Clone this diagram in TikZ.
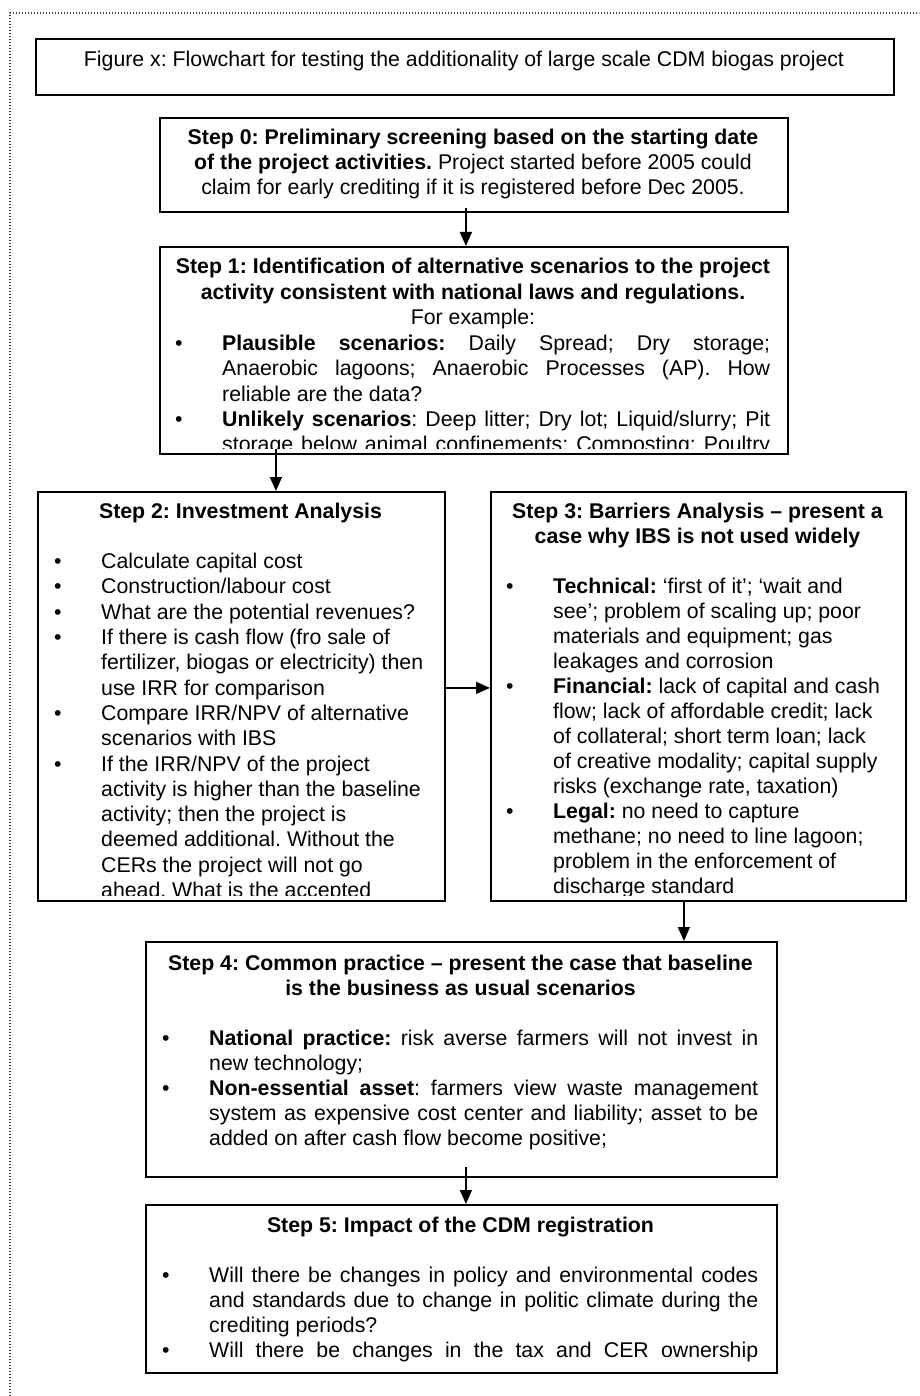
\documentclass[tikz,border=0pt]{standalone}
\usepackage{fontspec}
\setmainfont{Liberation Sans}
\usetikzlibrary{arrows.meta}

\frenchspacing
\newcommand\bodyfont{\fontsize{21.3pt}{25pt}\selectfont}
\newcommand\pitch[1]{\fontsize{21.3pt}{#1}\selectfont}
\newcommand\bul{\leavevmode\llap{\makebox[47pt][l]{\textbullet}}}
\newcommand\justpar{\tolerance=10000\hbadness=10000\parindent=0pt}

\begin{document}
\begin{tikzpicture}[x=1pt,y=-1pt,
  box/.style={draw, line width=1.8pt, anchor=north west, inner sep=0pt},
  arr/.style={line width=1.4pt, -{Triangle[length=14pt,width=12pt]}},
  txt/.style={anchor=base west, inner sep=0pt, font=\bodyfont},
  head/.style={anchor=base, inner sep=0pt, font=\bodyfont},
  frame/.style={line width=1.3pt, black!75, dash pattern=on 1.3pt off 1.7pt}]

\useasboundingbox (0,0) rectangle (919,1396);

% dotted page frame (top and left edges)
\draw[frame] (10,1396) -- (10,13) -- (919,13);

% boxes
\node[box, minimum width=858pt, minimum height=56pt]  (ttl) at (35,38) {};
\node[box, minimum width=628pt, minimum height=94pt]  (s0) at (159,117) {};
\node[box, minimum width=628pt, minimum height=207pt] (s1) at (159,246) {};
\node[box, minimum width=407pt, minimum height=409pt] (s2) at (37,491) {};
\node[box, minimum width=415pt, minimum height=409pt] (s3) at (490,491) {};
\node[box, minimum width=631pt, minimum height=235pt] (s4) at (145,941) {};
\node[box, minimum width=631pt, minimum height=168pt] (s5) at (145,1204) {};

% title
\node[head] (ttltxt) at (464,66.5)
  {Figure x: Flowchart for testing the additionality of large scale CDM biogas project};

% step 0
\node[head] (t0) at (473,145) {\parbox[t]{620pt}{\bodyfont\centering
  \textbf{Step 0: Preliminary screening based on the starting date}\\
  \textbf{of the project activities.} Project started before 2005 could\\
  claim for early crediting if it is registered before Dec 2005.}};

% step 1 (text runs past the box and is cut at its inner margin)
\begin{scope}
\clip ([yshift=6pt]s1.south east) rectangle (s1.north west);
\node[head] (h1) at (473,274) {\parbox[t]{620pt}{\pitch{25.4pt}\centering
  \textbf{Step 1: Identification of alternative scenarios to the project}\\
  \textbf{activity consistent with national laws and regulations.}\\
  For example:}};
\node[txt] (b1) at (222,350.2) {\parbox[t]{548pt}{\pitch{25.4pt}\justpar
  \bul\textbf{Plausible scenarios:} Daily Spread; Dry storage;\linebreak
  Anaerobic lagoons; Anaerobic Processes (AP). How\linebreak
  reliable are the data?\par
  \bul\textbf{Unlikely scenarios}: Deep litter; Dry lot; Liquid/slurry; Pit\linebreak
  storage below animal confinements; Composting; Poultry\parfillskip=0pt\par}};
\end{scope}

% step 2
\node[head] (h2) at (240.5,518) {\textbf{Step 2: Investment Analysis}};
\begin{scope}
\clip ([yshift=6pt]s2.south east) rectangle (s2.north west);
\node[txt] (b2) at (101,568.6) {\parbox[t]{340pt}{\pitch{25.3pt}\raggedright
  \bul Calculate capital cost\par
  \bul Construction/labour cost\par
  \bul What are the potential revenues?\par
  \bul If there is cash flow (fro sale of\\
  fertilizer, biogas or electricity) then\\
  use IRR for comparison\par
  \bul Compare IRR/NPV of alternative\\
  scenarios with IBS\par
  \bul If the IRR/NPV of the project\\
  activity is higher than the baseline\\
  activity; then the project is\\
  deemed additional. Without the\\
  CERs the project will not go\\
  ahead. What is the accepted}};
\end{scope}

% step 3
\node[head] (h3) at (697.5,518) {\parbox[t]{400pt}{\bodyfont\centering\bfseries
  Step 3: Barriers Analysis – present a\\
  case why IBS is not used widely}};
\begin{scope}
\clip ([yshift=6pt]s3.south east) rectangle (s3.north west);
\node[txt] (b3) at (553,593) {\parbox[t]{345pt}{\bodyfont\raggedright
  \bul\textbf{Technical:} ‘first of it’; ‘wait and\\
  see’; problem of scaling up; poor\\
  materials and equipment; gas\\
  leakages and corrosion\par
  \bul\textbf{Financial:} lack of capital and cash\\
  flow; lack of affordable credit; lack\\
  of collateral; short term loan; lack\\
  of creative modality; capital supply\\
  risks (exchange rate, taxation)\par
  \bul\textbf{Legal:} no need to capture\\
  methane; no need to line lagoon;\\
  problem in the enforcement of\\
  discharge standard}};
\end{scope}

% step 4
\node[head] (h4) at (460.5,970) {\parbox[t]{620pt}{\bodyfont\centering\bfseries
  Step 4: Common practice – present the case that baseline\\
  is the business as usual scenarios}};
\node[txt] (b4) at (209,1045) {\parbox[t]{549pt}{\bodyfont\justpar
  \bul\textbf{National practice:} risk averse farmers will not invest in\linebreak
  new technology;\par
  \bul\textbf{Non-essential asset}: farmers view waste management\linebreak
  system as expensive cost center and liability; asset to be\linebreak
  added on after cash flow become positive;\par}};

% step 5
\node[head] (h5) at (460.5,1232) {\textbf{Step 5: Impact of the CDM registration}};
\begin{scope}
\clip ([yshift=6pt]s5.south east) rectangle (s5.north west);
\node[txt] (b5) at (209,1282) {\parbox[t]{549pt}{\bodyfont\justpar
  \bul Will there be changes in policy and environmental codes\linebreak
  and standards due to change in politic climate during the\linebreak
  crediting periods?\par
  \bul Will there be changes in the tax and CER ownership\parfillskip=0pt\par}};
\end{scope}

% connectors
\draw[arr] ([xshift=-8pt,yshift=5pt]s0.south) -- ([xshift=-8pt]s1.south |- s1.north);
\coordinate (c12) at ([xshift=-198pt,yshift=6pt]s1.south);
\draw[arr] (c12) -- (c12 |- s2.north);
\draw[arr] ([yshift=8.5pt]s2.east) -- ([yshift=8.5pt]s3.west);
\coordinate (c34) at ([xshift=-14.5pt]s3.south);
\draw[arr] (c34) -- (c34 |- s4.north);
\coordinate (c45) at ([xshift=4.5pt,yshift=11pt]s4.south);
\draw[arr] (c45) -- (c45 |- s5.north);
\end{tikzpicture}
\end{document}
